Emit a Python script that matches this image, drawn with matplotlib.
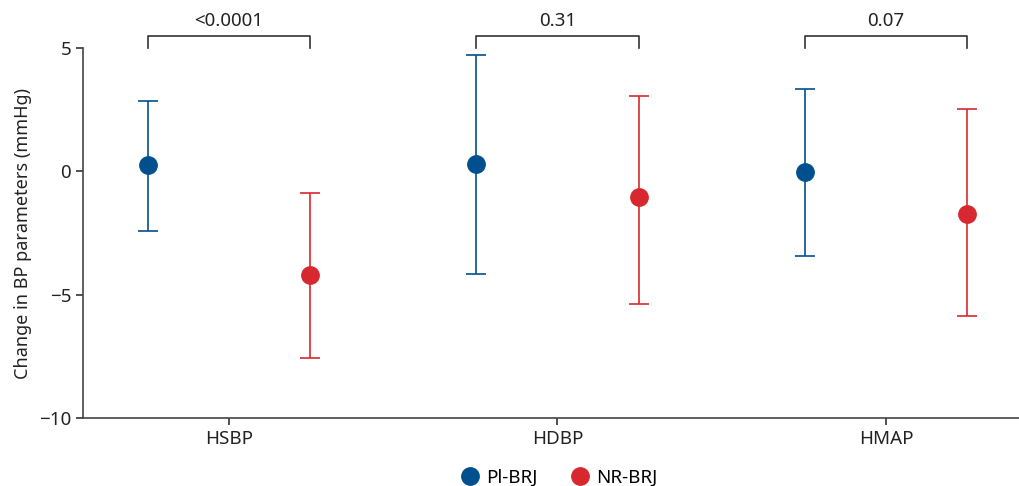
import numpy as np
import matplotlib.pyplot as plt

plt.rcParams['font.family'] = ['Noto Sans', 'DejaVu Sans']

categories = ['HSBP', 'HDBP', 'HMAP']
pl_mean = [0.25, 0.28, -0.04]
pl_low = [-2.4, -4.17, -3.44]
pl_high = [2.85, 4.72, 3.35]
nr_mean = [-4.22, -1.05, -1.72]
nr_low = [-7.57, -5.36, -5.87]
nr_high = [-0.88, 3.07, 2.53]
p_values = ['<0.0001', '0.31', '0.07']

blue = '#00508f'
red = '#d7282f'
off = 0.247
fs = 13.5

fig = plt.figure(figsize=(10.19, 4.86), dpi=100)
ax = fig.add_axes([0.0815, 0.14, 0.9185, 0.761])

x = np.arange(len(categories))
for xs, m, lo, hi, c, lab in [(x - off, pl_mean, pl_low, pl_high, blue, 'Pl-BRJ'),
                               (x + off, nr_mean, nr_low, nr_high, red, 'NR-BRJ')]:
    m = np.array(m)
    err = [m - np.array(lo), np.array(hi) - m]
    ax.errorbar(xs, m, yerr=err, fmt='none', ecolor=c, alpha=0.85,
                elinewidth=1.4, capsize=7, capthick=1.4, zorder=2)
    ax.plot(xs, m, 'o', color=c, markersize=12.5, label=lab, zorder=3, linestyle='none')

# significance brackets
for i, p in enumerate(p_values):
    x0, x1 = i - off, i + off
    ax.plot([x0, x0, x1, x1], [5.0, 5.5, 5.5, 5.0], color='#333333', lw=1.2,
            clip_on=False)
    ax.text(i, 5.72, p, ha='center', va='bottom', fontsize=fs, color='#222222')

ax.set_xlim(-0.444, 2.405)
ax.set_ylim(-10, 5)
ax.set_yticks([-10, -5, 0, 5])
ax.set_yticklabels(['\u221210', '\u22125', '0', '5'])
ax.set_xticks(x)
ax.set_xticklabels(categories)
ax.tick_params(labelsize=fs, colors='#333333', length=5, width=1.2, labelcolor='#222222')
ax.set_ylabel('Change in BP parameters (mmHg)', fontsize=13, color='#222222', labelpad=5)

for s in ['top', 'right']:
    ax.spines[s].set_visible(False)
for s in ['left', 'bottom']:
    ax.spines[s].set_color('#444444')
    ax.spines[s].set_linewidth(1.2)

ax.legend(loc='center', bbox_to_anchor=(0.506, -0.162), ncol=2, frameon=False,
          fontsize=fs, handletextpad=0.1, columnspacing=1.5, markerscale=1.0,
          handlelength=1.5)

fig.savefig('out.png', dpi=100)
